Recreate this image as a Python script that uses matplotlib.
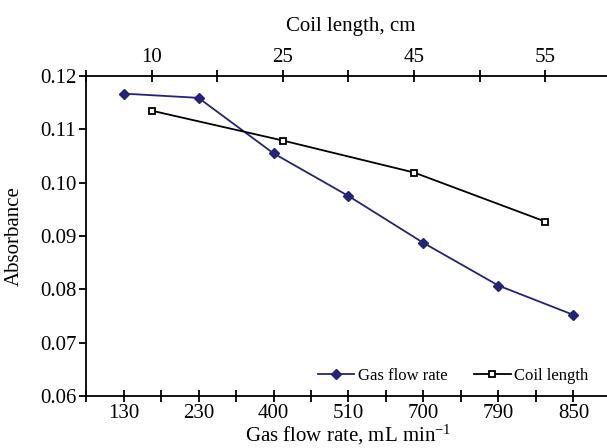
import numpy as np
import matplotlib.pyplot as plt
from matplotlib.ticker import FixedLocator

plt.rcParams['font.family'] = ['Liberation Serif', 'DejaVu Serif']
plt.rcParams['mathtext.fontset'] = 'custom'
plt.rcParams['mathtext.rm'] = 'Liberation Serif'
plt.rcParams['mathtext.it'] = 'Liberation Serif:italic'

# bottom axis: gas flow rate (mL/min), categorical
flow_labels = ["130", "230", "400", "510", "700", "790", "850"]
flow_absorbance = [0.1167, 0.1159, 0.1055, 0.0975, 0.0887, 0.0807, 0.0752]

# top axis: coil length (cm), categorical
coil_labels = ["10", "25", "45", "55"]
coil_absorbance = [0.1135, 0.1079, 0.1019, 0.0927]

navy = '#23237a'

fig = plt.figure(figsize=(6.07, 4.48), dpi=100)
ax = fig.add_axes([86 / 607, 1 - 396 / 448, 525 / 607, 320 / 448])
ax2 = ax.twiny()

x_flow = np.arange(len(flow_labels))
x_coil = np.arange(len(coil_labels))

l1, = ax.plot(x_flow, flow_absorbance, color=navy, lw=1.3, marker='D',
              ms=5.5, mfc=navy, mec=navy, label='Gas flow rate')
l2, = ax2.plot(x_coil, coil_absorbance, color='black', lw=1.3, marker='s',
               ms=5, mfc='white', mec='black', mew=1.3, label='Coil length')

ax.set_xlim(-0.5, len(flow_labels) - 0.5)
ax2.set_xlim(-0.5, len(coil_labels) - 0.5)
ax.set_ylim(0.06, 0.12)
ax.set_yticks(np.arange(0.06, 0.1201, 0.01))
ax.set_yticklabels(['%.2f' % v for v in np.arange(0.06, 0.1201, 0.01)])

ax.set_xticks(x_flow)
ax.set_xticklabels(flow_labels)
ax.xaxis.set_minor_locator(FixedLocator(np.arange(-0.5, len(flow_labels), 1.0)))
ax2.set_xticks(x_coil)
ax2.set_xticklabels(coil_labels)
ax2.xaxis.set_minor_locator(FixedLocator(np.arange(-0.5, len(coil_labels), 1.0)))

for a in (ax, ax2):
    a.spines['right'].set_visible(False)
    for s in a.spines.values():
        s.set_linewidth(1.3)
ax.spines['top'].set_visible(False)
ax2.spines['bottom'].set_visible(False)
ax2.spines['left'].set_visible(False)

ax.tick_params(axis='x', which='both', direction='inout', length=9, width=1.3,
               labelsize=15, pad=1)
ax2.tick_params(axis='x', which='both', direction='inout', length=9, width=1.3,
                labelsize=15, pad=2)
ax.tick_params(axis='y', direction='out', length=5, width=1.3, labelsize=15, pad=2)

ax.set_xlabel('Gas flow rate, mL min$^{-1}$', fontsize=15)
ax.xaxis.set_label_coords(0.5, -0.085)
ax2.set_xlabel('Coil length, cm', fontsize=15)
ax2.xaxis.set_label_coords(0.505, 1.14)
ax.set_ylabel('Absorbance', fontsize=15)
ax.yaxis.set_label_coords(-0.118, 0.5)

ax.legend(handles=[l1, l2], loc='lower right', ncol=2, frameon=False,
          fontsize=12, handlelength=2.2, handletextpad=0.2, columnspacing=1.6,
          bbox_to_anchor=(0.985, -0.01))

fig.savefig('out.png', dpi=100)
